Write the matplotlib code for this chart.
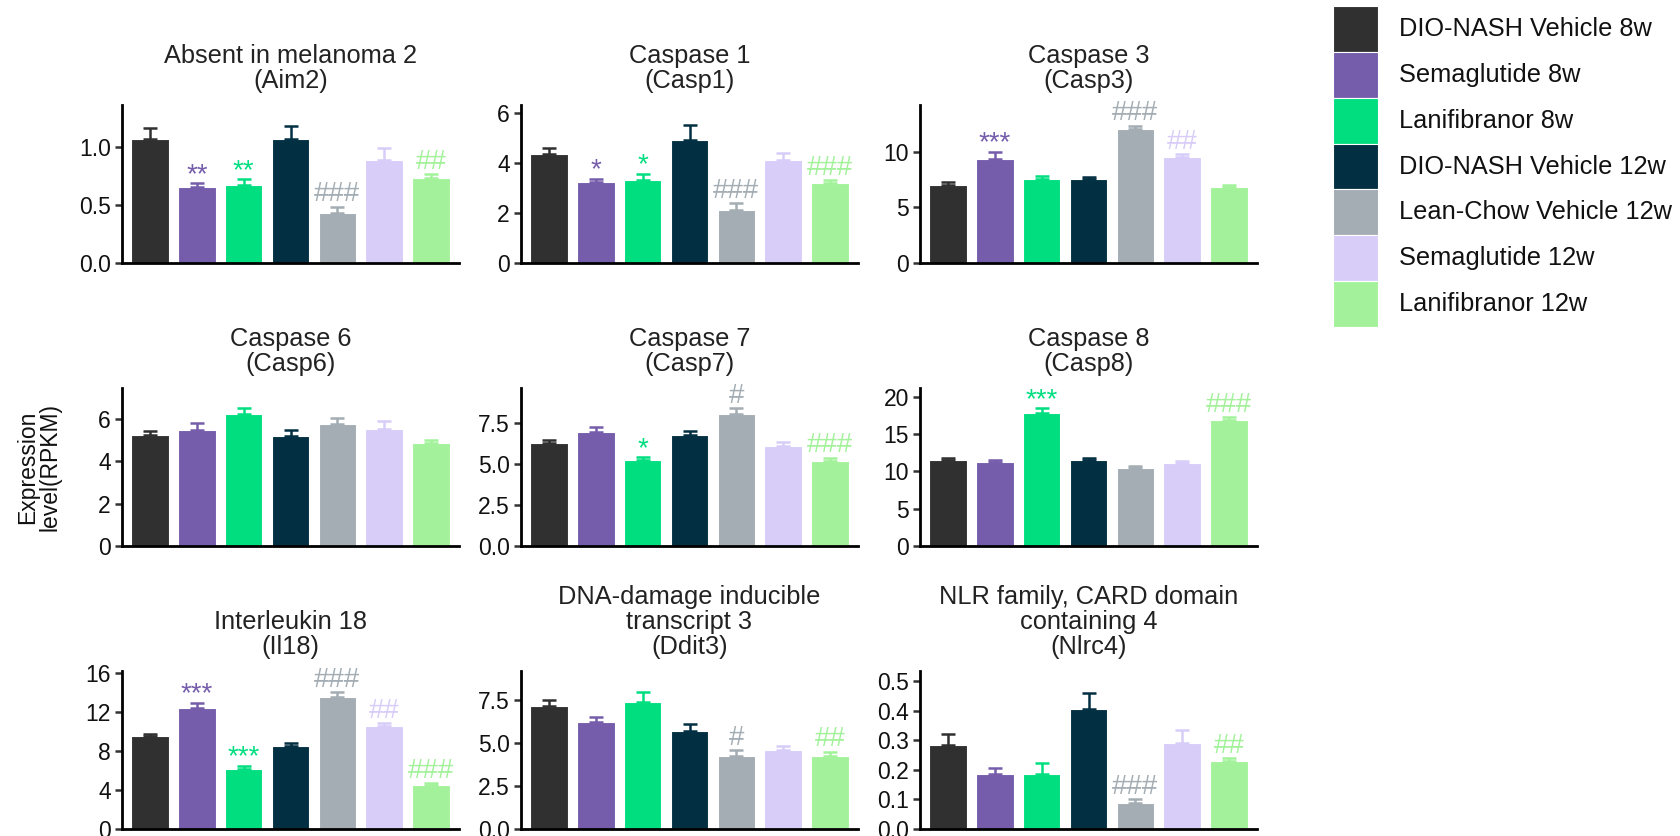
import numpy as np
import matplotlib
matplotlib.use("Agg")
import matplotlib.pyplot as plt
from matplotlib.patches import Rectangle

plt.rcParams['font.family'] = ['Liberation Sans', 'DejaVu Sans']

GROUPS = ["DIO-NASH Vehicle 8w", "Semaglutide 8w", "Lanifibranor 8w",
          "DIO-NASH Vehicle 12w", "Lean-Chow Vehicle 12w",
          "Semaglutide 12w", "Lanifibranor 12w"]
COLORS = ['#303030', '#755dab', '#00de80', '#022f42', '#a3adb3', '#d8cdf8', '#a3f29b']

# mean expression (RPKM), upper error (SEM) and significance marks per gene
aim2_mean = [1.07, 0.65, 0.675, 1.065, 0.43, 0.885, 0.73]
aim2_err = [0.09, 0.035, 0.045, 0.11, 0.055, 0.105, 0.035]
aim2_sig = ["", "**", "**", "", "###", "", "##"]

casp1_mean = [4.35, 3.24, 3.29, 4.92, 2.13, 4.12, 3.17]
casp1_err = [0.22, 0.11, 0.27, 0.57, 0.25, 0.25, 0.12]
casp1_sig = ["", "*", "*", "", "###", "", "###"]

casp3_mean = [7.03, 9.37, 7.57, 7.51, 12.01, 9.55, 6.79]
casp3_err = [0.21, 0.6, 0.24, 0.24, 0.33, 0.24, 0.24]
casp3_sig = ["", "***", "", "", "###", "##", ""]

casp6_mean = [5.24, 5.46, 6.21, 5.21, 5.75, 5.53, 4.86]
casp6_err = [0.18, 0.34, 0.30, 0.28, 0.31, 0.36, 0.13]
casp6_sig = ["", "", "", "", "", "", ""]

casp7_mean = [6.26, 6.95, 5.24, 6.77, 8.03, 6.11, 5.18]
casp7_err = [0.22, 0.28, 0.16, 0.24, 0.37, 0.25, 0.20]
casp7_sig = ["", "", "*", "", "#", "", "###"]

casp8_mean = [11.57, 11.26, 17.85, 11.57, 10.45, 11.08, 16.91]
casp8_err = [0.27, 0.31, 0.63, 0.27, 0.31, 0.35, 0.35]
casp8_sig = ["", "", "***", "", "", "", "###"]

il18_mean = [9.51, 12.39, 6.18, 8.48, 13.53, 10.61, 4.53]
il18_err = [0.28, 0.55, 0.28, 0.31, 0.51, 0.24, 0.14]
il18_sig = ["", "***", "***", "", "###", "##", "###"]

ddit3_mean = [7.17, 6.23, 7.40, 5.73, 4.27, 4.58, 4.27]
ddit3_err = [0.37, 0.30, 0.57, 0.39, 0.31, 0.23, 0.23]
ddit3_sig = ["", "", "", "", "#", "", "##"]

nlrc4_mean = [0.284, 0.186, 0.185, 0.407, 0.087, 0.289, 0.231]
nlrc4_err = [0.038, 0.019, 0.037, 0.054, 0.013, 0.044, 0.008]
nlrc4_sig = ["", "", "", "", "###", "", "##"]

titles = ["Absent in melanoma 2\n(Aim2)", "Caspase 1\n(Casp1)", "Caspase 3\n(Casp3)",
          "Caspase 6\n(Casp6)", "Caspase 7\n(Casp7)", "Caspase 8\n(Casp8)",
          "Interleukin 18\n(Il18)", "DNA-damage inducible\ntranscript 3\n(Ddit3)",
          "NLR family, CARD domain\ncontaining 4\n(Nlrc4)"]
yticks = [[0.0, 0.5, 1.0], [0, 2, 4, 6], [0, 5, 10],
          [0, 2, 4, 6], [0.0, 2.5, 5.0, 7.5], [0, 5, 10, 15, 20],
          [0, 4, 8, 12, 16], [0.0, 2.5, 5.0, 7.5], [0.0, 0.1, 0.2, 0.3, 0.4, 0.5]]
ytick_fmt = ["%.1f", "%d", "%d", "%d", "%.1f", "%d", "%d", "%.1f", "%.1f"]
ytops = [1.36, 6.3, 14.2, 7.46, 9.63, 21.2, 16.2, 9.2, 0.534]

panels = [(aim2_mean, aim2_err, aim2_sig), (casp1_mean, casp1_err, casp1_sig),
          (casp3_mean, casp3_err, casp3_sig), (casp6_mean, casp6_err, casp6_sig),
          (casp7_mean, casp7_err, casp7_sig), (casp8_mean, casp8_err, casp8_sig),
          (il18_mean, il18_err, il18_sig), (ddit3_mean, ddit3_err, ddit3_sig),
          (nlrc4_mean, nlrc4_err, nlrc4_sig)]

W, H = 1681, 836
fig = plt.figure(figsize=(W / 100, H / 100), dpi=100)

col_x = [122, 521, 920]
row_bottom = [263, 546, 829]
ax_w, ax_h = 337, 158

x = np.arange(len(GROUPS))
for i, (mean, err, sig) in enumerate(panels):
    r, c = divmod(i, 3)
    ax = fig.add_axes([col_x[c] / W, 1 - row_bottom[r] / H, ax_w / W, ax_h / H])
    ax.bar(x, mean, width=0.8, color=COLORS, edgecolor='white', linewidth=0.8, zorder=2)
    for k in range(len(x)):
        ax.errorbar(x[k], mean[k], yerr=[[0], [err[k]]], fmt='none', ecolor=COLORS[k],
                    elinewidth=1.8, capsize=5, capthick=1.8, zorder=3)
        if sig[k]:
            is_hash = sig[k].startswith('#')
            ax.annotate(sig[k], (x[k], mean[k] + err[k]), xytext=(0, 4 if is_hash else 1),
                        textcoords='offset points', ha='center', va='baseline',
                        color=COLORS[k], fontsize=20 if is_hash else 20,
                        fontweight='light')
    ax.set_xlim(-0.6, 6.6)
    ax.set_ylim(0, ytops[i])
    ax.set_yticks(yticks[i])
    ax.set_yticklabels([ytick_fmt[i] % t for t in yticks[i]])
    ax.set_xticks([])
    for s in ['top', 'right']:
        ax.spines[s].set_visible(False)
    for s in ['left', 'bottom']:
        ax.spines[s].set_linewidth(2.0)
        ax.spines[s].set_color('black')
        ax.spines[s].set_zorder(4)
    ax.tick_params(axis='y', length=5, width=1.8, color='#333333', labelsize=16.5,
                   pad=3, labelcolor='#111111')
    ax.set_title(titles[i], fontsize=18.3, pad=12, linespacing=1.05, color='#222222')

fig.text(39 / W, 1 - 467 / H, "Expression\nlevel(RPKM)", rotation=90, ha='center',
         va='center', fontsize=16.5, linespacing=0.95, color='#111111')

# legend drawn as colour blocks with labels
lax = fig.add_axes([1333 / W, 1 - 327 / H, 348 / W, 321 / H])
lax.set_xlim(0, 348 / 45)
lax.set_ylim(0, len(GROUPS))
lax.axis('off')
for k, (name, col) in enumerate(zip(GROUPS, COLORS)):
    yy = len(GROUPS) - 1 - k
    lax.add_patch(Rectangle((0, yy), 1, 1, facecolor=col, edgecolor='white', linewidth=0.8))
    lax.text(1.47, yy + 0.5, name, va='center', ha='left', fontsize=18.3, color='#111111')

fig.savefig("out.png", dpi=100)
